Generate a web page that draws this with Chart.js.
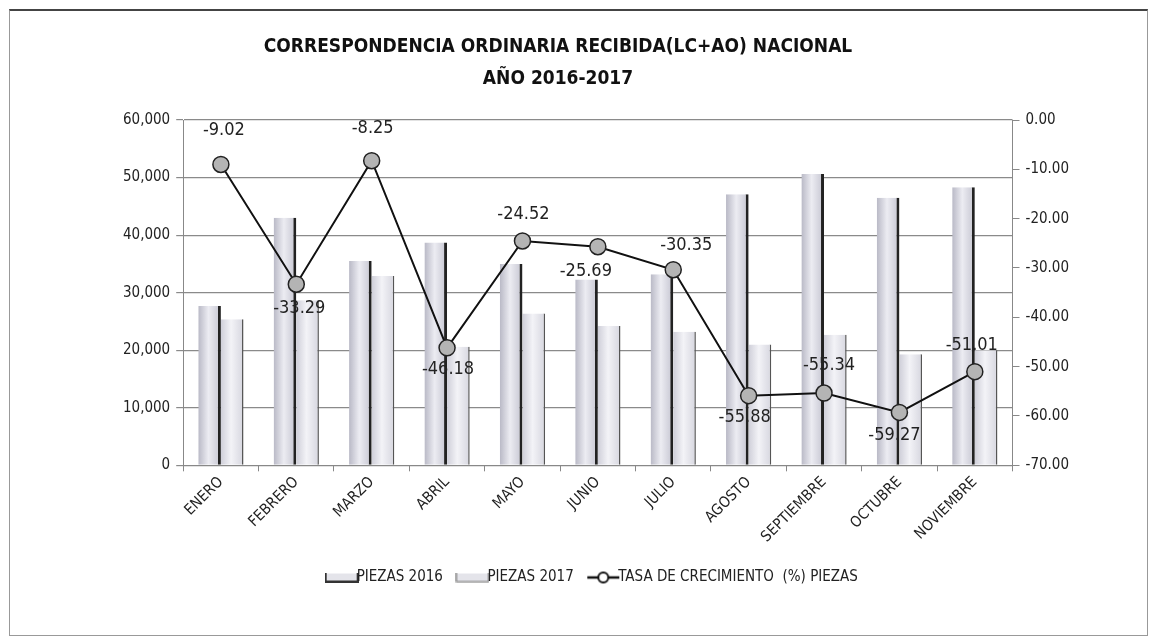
<!DOCTYPE html>
<html>
<head>
<meta charset="utf-8">
<script src="https://cdn.jsdelivr.net/npm/chart.js@4.4.0/dist/chart.umd.min.js"></script>
<style>
  body { margin: 0; background: #fff; }
  #frame {
    position: absolute; left: 9px; top: 9px; width: 1137px; height: 624px;
    border: 1px solid #999; border-top: 2px solid #444; background: #fff;
  }
  #chart { display: block; }
</style>
</head>
<body>
<div id="frame"><canvas id="chart" width="1137" height="624"></canvas></div>
<script>
// data
var months = ['ENERO', 'FEBRERO', 'MARZO', 'ABRIL', 'MAYO', 'JUNIO', 'JULIO', 'AGOSTO', 'SEPTIEMBRE', 'OCTUBRE', 'NOVIEMBRE'];
var piezas2016 = [27700, 43000, 35500, 38700, 35000, 32300, 33200, 47100, 50600, 46500, 48300];
var piezas2017 = [25400, 28700, 32900, 20600, 26400, 24200, 23200, 21000, 22700, 19300, 20000];
var tasa = [-9.02, -33.29, -8.25, -46.18, -24.52, -25.69, -30.35, -55.88, -55.34, -59.27, -51.01];
var leftTicks = [0, 10000, 20000, 30000, 40000, 50000, 60000];
var rightTicks = [0, -10, -20, -30, -40, -50, -60, -70];
var titleLines = ['CORRESPONDENCIA ORDINARIA RECIBIDA(LC+AO) NACIONAL', 'AÑO 2016-2017'];

// where each value label sits relative to its point (dx, dy)
var labelOffsets = [[3, -34], [3, 24], [1, -32], [1, 22], [1, -27], [-12, 25], [13, -24], [-4, 22], [5, -28], [-5, 23], [-3, -26]];

var FONT = '"Liberation Sans Narrow", "DejaVu Sans Condensed", "Liberation Sans", sans-serif';
var CAT_PCT = 0.6;

function barGradient(ctx, stops) {
    var chart = ctx.chart;
    var xs = chart.scales && chart.scales.x;
    if (!xs || !xs.width) return stops[1];
    var center = xs.getPixelForValue(ctx.dataIndex);
    var half = xs.width / months.length * CAT_PCT / 2;
    var left = ctx.datasetIndex === 0 ? center - half : center;
    var g = chart.ctx.createLinearGradient(left, 0, left + half, 0);
    g.addColorStop(0, stops[0]);
    g.addColorStop(0.45, stops[1]);
    g.addColorStop(1, stops[2]);
    return g;
}

// legend icon for the line series: a line with a ring in the middle
function lineIcon() {
    var c = document.createElement('canvas');
    c.width = 34; c.height = 14;
    var x = c.getContext('2d');
    x.strokeStyle = '#111';
    x.lineWidth = 2.5;
    x.beginPath(); x.moveTo(1, 7); x.lineTo(33, 7); x.stroke();
    x.beginPath(); x.arc(17, 7, 5, 0, Math.PI * 2);
    x.fillStyle = '#fff'; x.fill(); x.lineWidth = 2; x.stroke();
    return c;
}
function barIcon(dark) {
    var c = document.createElement('canvas');
    c.width = 34; c.height = 10;
    var x = c.getContext('2d');
    x.fillStyle = '#e4e4ea';
    x.fillRect(1, 1, 32, 8);
    x.strokeStyle = dark ? '#333' : '#777';
    x.lineWidth = dark ? 2 : 1.2;
    x.beginPath(); x.moveTo(1, 0); x.lineTo(1, 9); x.lineTo(33, 9); x.lineTo(33, 0); x.stroke();
    return c;
}
var icons = [barIcon(true), barIcon(false), lineIcon()];

// title drawn by hand, it sits left of the canvas centre in the original
var titleText = {
    id: 'titleText',
    afterDraw: function (chart) {
        var ctx = chart.ctx;
        ctx.save();
        ctx.font = 'bold 19px ' + FONT;
        ctx.fillStyle = '#111';
        ctx.textAlign = 'center';
        ctx.textBaseline = 'middle';
        ctx.fillText(titleLines[0], 548, 36);
        ctx.fillText(titleLines[1], 548, 68);
        ctx.restore();
    }
};

var valueLabels = {
    id: 'valueLabels',
    afterDatasetsDraw: function (chart) {
        var meta = chart.getDatasetMeta(2);
        var ctx = chart.ctx;
        ctx.save();
        ctx.font = '18px ' + FONT;
        ctx.fillStyle = '#222';
        ctx.textAlign = 'center';
        ctx.textBaseline = 'middle';
        meta.data.forEach(function (pt, i) {
            var o = labelOffsets[i];
            ctx.fillText(tasa[i].toFixed(2), pt.x + o[0], pt.y + o[1]);
        });
        ctx.restore();
    }
};

var chart = new Chart(document.getElementById('chart'), {
    type: 'bar',
    data: {
        labels: months,
        datasets: [{
            label: 'PIEZAS 2016',
            data: piezas2016,
            yAxisID: 'y',
            order: 2,
            backgroundColor: function (ctx) { return barGradient(ctx, ['#b9b9c6', '#ececf2', '#c4c4d0']); },
            borderColor: '#222',
            borderWidth: { right: 3, left: 0, top: 0, bottom: 0 },
            borderSkipped: false,
            categoryPercentage: CAT_PCT,
            barPercentage: 1.0
        }, {
            label: 'PIEZAS 2017',
            data: piezas2017,
            yAxisID: 'y',
            order: 3,
            backgroundColor: function (ctx) { return barGradient(ctx, ['#cfcfd9', '#f3f3f7', '#d6d6df']); },
            borderColor: '#555',
            borderWidth: { right: 1.5, left: 0, top: 0, bottom: 0 },
            borderSkipped: false,
            categoryPercentage: CAT_PCT,
            barPercentage: 1.0
        }, {
            type: 'line',
            label: 'TASA DE CRECIMIENTO  (%) PIEZAS',
            data: tasa,
            yAxisID: 'y1',
            order: 1,
            borderColor: '#111',
            borderWidth: 2,
            pointRadius: 8,
            pointBackgroundColor: '#b4b4b4',
            pointBorderColor: '#222',
            pointBorderWidth: 1.5,
            tension: 0
        }]
    },
    options: {
        responsive: false,
        animation: false,
        layout: { padding: { left: 107, right: 72, top: 109, bottom: 40 } },
        plugins: {
            title: { display: false },
            legend: {
                position: 'bottom',
                labels: {
                    color: '#222',
                    font: { family: FONT, size: 15 },
                    usePointStyle: true,
                    padding: 22,
                    generateLabels: function (chart) {
                        return chart.data.datasets.map(function (ds, i) {
                            return { text: ds.label, pointStyle: icons[i], datasetIndex: i, fontColor: '#222', lineWidth: 0, strokeStyle: 'transparent', fillStyle: 'transparent' };
                        });
                    }
                }
            },
            tooltip: { enabled: false }
        },
        scales: {
            x: {
                grid: { display: true, drawOnChartArea: false, offset: true, tickLength: 6, color: '#888' },
                border: { color: '#888' },
                ticks: { color: '#222', font: { family: FONT, size: 15 }, minRotation: 45, maxRotation: 45, padding: 2 }
            },
            y: {
                position: 'left',
                min: 0, max: 60000,
                afterBuildTicks: function (axis) { axis.ticks = leftTicks.map(function (v) { return { value: v }; }); },
                grid: { color: '#8a8a8a', lineWidth: 1.2, tickLength: 7 },
                border: { color: '#888' },
                ticks: { color: '#222', font: { family: FONT, size: 15 }, padding: 6,
                    callback: function (v) { return v.toLocaleString('en-US'); } }
            },
            y1: {
                position: 'right',
                min: -70, max: 0,
                afterBuildTicks: function (axis) { axis.ticks = rightTicks.map(function (v) { return { value: v }; }); },
                grid: { drawOnChartArea: false, tickLength: 7, color: '#888' },
                border: { color: '#888' },
                ticks: { color: '#222', font: { family: FONT, size: 15 }, padding: 6,
                    callback: function (v) { return v.toFixed(2); } }
            }
        }
    },
    plugins: [valueLabels, titleText]
});
</script>
</body>
</html>
